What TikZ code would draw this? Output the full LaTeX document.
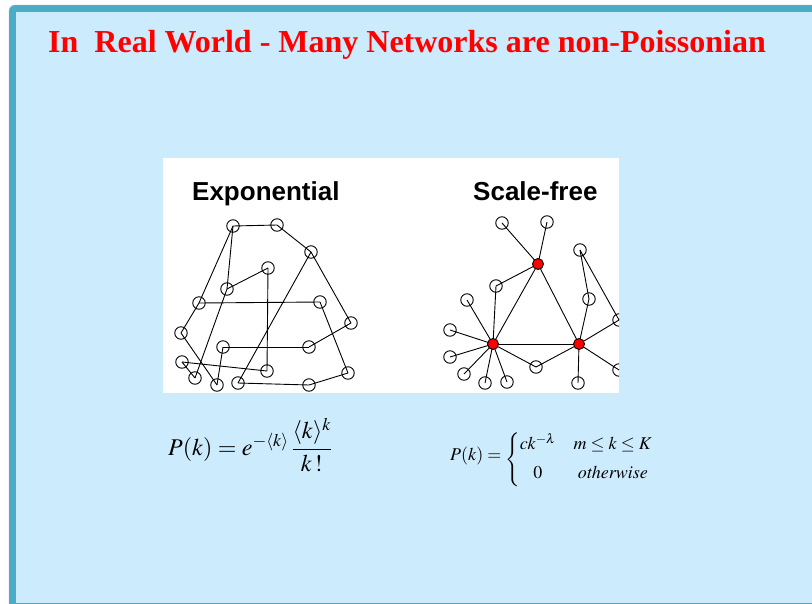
\documentclass[tikz,border=0pt]{standalone}
\usepackage{amsmath}
\usepackage{mathptmx}
\usepackage{fontspec}
\setmainfont{Liberation Serif}
\newfontfamily\labelfont{Liberation Sans}
\usetikzlibrary{positioning, backgrounds}
\usepackage{xcolor}

\definecolor{slideblue}{HTML}{CCEBFC}
\definecolor{slideteal}{HTML}{4BACC6}

\pgfdeclarelayer{links}
\pgfsetlayers{background,links,main}

\begin{document}
\begin{tikzpicture}[x=1pt, y=-1pt,
    vertex/.style={circle, draw, inner sep=0pt, minimum size=12.5pt, line width=0.9pt},
    hub/.style={vertex, fill=red, minimum size=11pt},
    link/.style={line width=0.9pt},
    heading/.style={text=red, inner sep=0pt, font=\fontsize{32}{36}\selectfont\bfseries},
    tag/.style={inner sep=0pt, font=\labelfont\fontsize{26}{30}\selectfont\bfseries}]
    \useasboundingbox (0,0) rectangle (812,603);

    % Slide
    \begin{pgfonlayer}{background}
        \fill[white] (0,0) rectangle (812,603);
        \draw[fill=slideteal, draw=gray!60, rounded corners=6pt] (9,5) rectangle (840,640);
        \fill[slideblue] (16,12) rectangle (812,603);
        \fill[white] (163,158) rectangle (619,393);
    \end{pgfonlayer}

    \node[heading, anchor=base west] (title) at (48,52) {In\ \ Real World - Many Networks are non-Poissonian};

    % Labels
    \node[tag, anchor=base west] (explabel) at (192,200) {Exponential};
    \node[tag, anchor=base west] (sflabel) at (473,200) {Scale-free};

    \begin{scope}
    \clip (163,158) rectangle (619,393);

    % Exponential network
    \node[vertex] (x1) at (233,226) {};
    \node[vertex] (x2) at (277,225) {};
    \node[vertex] (x3) at (311,252) {};
    \node[vertex] (x4) at (268,268) {};
    \node[vertex] (x5) at (227,289) {};
    \node[vertex] (x6) at (199,303) {};
    \node[vertex] (x7) at (320,302) {};
    \node[vertex] (x8) at (351,323) {};
    \node[vertex] (x9) at (181,333) {};
    \node[vertex] (x10) at (223,347) {};
    \node[vertex] (x11) at (309,347) {};
    \node[vertex] (x12) at (182,362) {};
    \node[vertex] (x13) at (267,371) {};
    \node[vertex] (x14) at (195,378) {};
    \node[vertex] (x15) at (217,385) {};
    \node[vertex] (x16) at (238,383) {};
    \node[vertex] (x17) at (309,385) {};
    \node[vertex] (x18) at (348,373) {};

    % Scale-free network
    \node[hub] (h1) at (538,264) {};
    \node[hub] (h2) at (493,344) {};
    \node[hub] (h3) at (579,344) {};
    \node[vertex] (s1) at (502,223) {};
    \node[vertex] (s2) at (547,222) {};
    \node[vertex] (s3) at (496,286) {};
    \node[vertex] (s4) at (467,300) {};
    \node[vertex] (s5) at (450,330) {};
    \node[vertex] (s6) at (450,357) {};
    \node[vertex] (s7) at (464,374) {};
    \node[vertex] (s8) at (485,383) {};
    \node[vertex] (s9) at (507,382) {};
    \node[vertex] (s10) at (536,367) {};
    \node[vertex] (s11) at (580,250) {};
    \node[vertex] (s12) at (589,299) {};
    \node[vertex] (s13) at (619,320) {};
    \node[vertex] (s14) at (619,370) {};
    \node[vertex] (s15) at (578,383) {};

    % Links
    \begin{pgfonlayer}{links}
    \foreach \a/\b in {x1/x2, x2/x3, x3/x8, x3/x16, x1/x6, x1/x5, x5/x14, x5/x4,
                       x6/x7, x6/x9, x9/x15, x4/x13, x10/x11, x10/x15, x11/x8,
                       x7/x18, x12/x13, x12/x14, x16/x17, x17/x18}
        \draw[link] (\a.center) -- (\b.center);
    \foreach \a/\b in {h1/h2, h1/h3, h2/h3, s1/h1, s2/h1, s3/h1, s3/h2, s4/h2,
                       s5/h2, s6/h2, s7/h2, s8/h2, s9/h2, s10/h2, s10/h3,
                       s11/s12, s11/s13, s12/h3, s13/h3, s14/h3, s15/h3}
        \draw[link] (\a.center) -- (\b.center);
    \end{pgfonlayer}
    \end{scope}

    % Distributions
    \node[anchor=base west, inner sep=0pt, font=\fontsize{24}{29}\selectfont] (poisson) at (168,455)
        {$P(k) = e^{-\langle k\rangle}\,\dfrac{\langle k\rangle^{k}}{k\,!}$};
    \node[anchor=base west, inner sep=0pt, font=\fontsize{18}{22}\selectfont] (powerlaw) at (450,460)
        {$P(k) = \raisebox{-4pt}{$\left\{\setlength\arraycolsep{9pt}\begin{array}{@{}cc@{}} ck^{-\lambda} & m\le k\le K\\[7pt] 0 & \mathit{otherwise}\end{array}\right.$}$};
\end{tikzpicture}
\end{document}
